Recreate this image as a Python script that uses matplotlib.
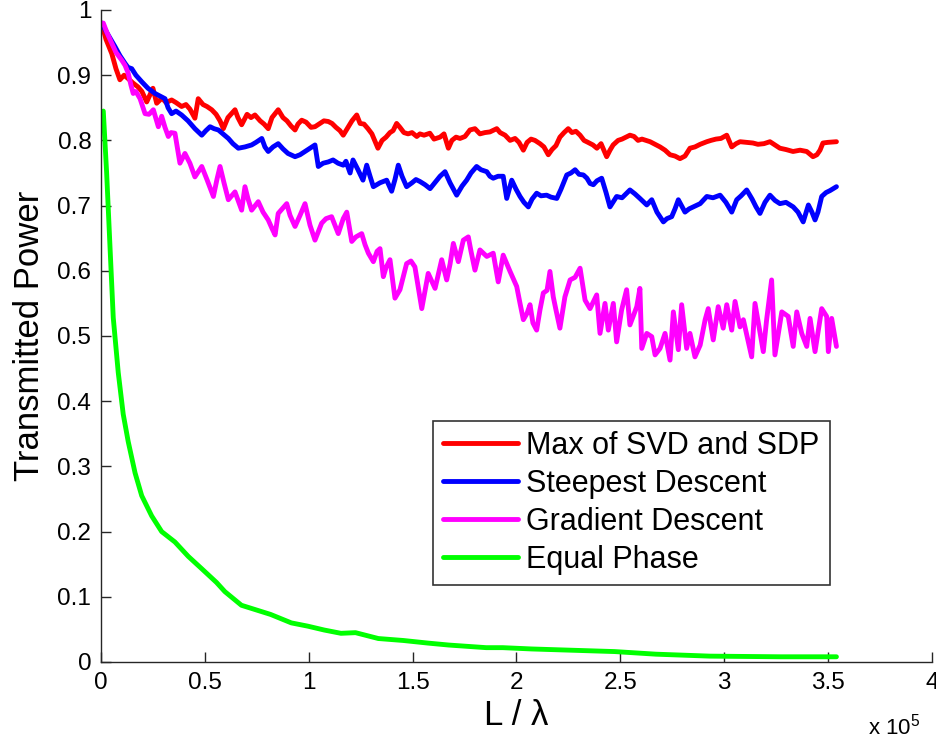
import matplotlib
matplotlib.use("Agg")
import matplotlib.pyplot as plt
import numpy as np

plt.rcParams["font.family"] = ["Liberation Sans", "DejaVu Sans"]
plt.rcParams["mathtext.fontset"] = "custom"
plt.rcParams["mathtext.rm"] = "Liberation Sans"
plt.rcParams["mathtext.it"] = "Liberation Sans"

# Propagation length L/lambda, in units of 1e5
svd_sdp_x = [0.003, 0.024, 0.052, 0.072, 0.091, 0.111, 0.130, 0.154, 0.178, 0.197, 0.220, 0.236,
             0.250, 0.268, 0.294, 0.313, 0.340, 0.361, 0.388, 0.409, 0.428, 0.452, 0.468, 0.491,
             0.510, 0.533, 0.554, 0.573, 0.589, 0.611, 0.645, 0.659, 0.677, 0.703, 0.722, 0.741,
             0.766, 0.785, 0.805, 0.823, 0.853, 0.876, 0.895, 0.915, 0.934, 0.948, 0.966, 0.987,
             1.011, 1.030, 1.054, 1.073, 1.094, 1.112, 1.131, 1.150, 1.166, 1.189, 1.208, 1.231,
             1.247, 1.266, 1.285, 1.304, 1.333, 1.353, 1.372, 1.391, 1.406, 1.423, 1.439, 1.458,
             1.478, 1.497, 1.520, 1.535, 1.555, 1.583, 1.603, 1.632, 1.651, 1.672, 1.689, 1.709,
             1.728, 1.752, 1.776, 1.800, 1.824, 1.848, 1.872, 1.905, 1.921, 1.945, 1.969, 1.993,
             2.012, 2.033, 2.051, 2.070, 2.089, 2.113, 2.132, 2.153, 2.171, 2.190, 2.209, 2.229,
             2.249, 2.267, 2.286, 2.306, 2.325, 2.344, 2.368, 2.387, 2.407, 2.434, 2.450, 2.465,
             2.489, 2.508, 2.527, 2.546, 2.566, 2.585, 2.604, 2.623, 2.643, 2.667, 2.691, 2.715,
             2.739, 2.763, 2.787, 2.811, 2.835, 2.859, 2.884, 2.916, 2.936, 2.960, 2.984, 3.012,
             3.036, 3.057, 3.076, 3.105, 3.138, 3.162, 3.191, 3.220, 3.244, 3.268, 3.297, 3.331,
             3.365, 3.397, 3.427, 3.446, 3.461, 3.475, 3.499, 3.540]
svd_sdp_y = [0.980, 0.955, 0.933, 0.910, 0.893, 0.900, 0.895, 0.888, 0.882, 0.875, 0.859, 0.870,
             0.880, 0.857, 0.865, 0.858, 0.862, 0.858, 0.852, 0.855, 0.848, 0.834, 0.864, 0.855,
             0.852, 0.847, 0.840, 0.830, 0.818, 0.835, 0.847, 0.835, 0.824, 0.840, 0.835, 0.839,
             0.830, 0.825, 0.818, 0.835, 0.847, 0.835, 0.830, 0.822, 0.816, 0.825, 0.831, 0.828,
             0.820, 0.821, 0.826, 0.830, 0.829, 0.826, 0.820, 0.815, 0.808, 0.820, 0.830, 0.839,
             0.826, 0.825, 0.818, 0.810, 0.788, 0.800, 0.805, 0.812, 0.815, 0.826, 0.820, 0.812,
             0.810, 0.812, 0.806, 0.810, 0.808, 0.811, 0.802, 0.805, 0.810, 0.788, 0.800, 0.805,
             0.803, 0.806, 0.816, 0.818, 0.810, 0.812, 0.813, 0.818, 0.812, 0.808, 0.800, 0.803,
             0.797, 0.785, 0.797, 0.802, 0.800, 0.795, 0.790, 0.778, 0.786, 0.792, 0.805, 0.812,
             0.818, 0.812, 0.814, 0.808, 0.800, 0.797, 0.793, 0.788, 0.795, 0.775, 0.785, 0.793,
             0.800, 0.802, 0.805, 0.808, 0.806, 0.800, 0.802, 0.800, 0.798, 0.794, 0.790, 0.785,
             0.778, 0.776, 0.772, 0.776, 0.788, 0.790, 0.794, 0.798, 0.800, 0.802, 0.803, 0.808,
             0.790, 0.795, 0.798, 0.797, 0.796, 0.794, 0.795, 0.798, 0.793, 0.788, 0.786, 0.783,
             0.785, 0.783, 0.775, 0.778, 0.785, 0.796, 0.797, 0.798]

steepest_x = [0.003, 0.034, 0.067, 0.091, 0.116, 0.130, 0.148, 0.168, 0.196, 0.226, 0.260, 0.284,
              0.308, 0.323, 0.340, 0.361, 0.388, 0.419, 0.452, 0.485, 0.505, 0.525, 0.544, 0.565,
              0.587, 0.613, 0.635, 0.661, 0.693, 0.725, 0.746, 0.774, 0.789, 0.805, 0.828, 0.853,
              0.876, 0.900, 0.934, 0.958, 0.982, 1.006, 1.030, 1.046, 1.069, 1.094, 1.117, 1.141,
              1.166, 1.179, 1.199, 1.213, 1.237, 1.261, 1.279, 1.295, 1.311, 1.343, 1.375, 1.399,
              1.415, 1.431, 1.449, 1.471, 1.497, 1.516, 1.535, 1.560, 1.584, 1.607, 1.632, 1.656,
              1.680, 1.712, 1.738, 1.760, 1.781, 1.808, 1.829, 1.857, 1.872, 1.888, 1.911, 1.936,
              1.953, 1.977, 1.998, 2.017, 2.036, 2.057, 2.075, 2.097, 2.118, 2.145, 2.166, 2.194,
              2.214, 2.242, 2.262, 2.282, 2.301, 2.322, 2.339, 2.354, 2.370, 2.387, 2.410, 2.431,
              2.450, 2.482, 2.508, 2.546, 2.570, 2.594, 2.627, 2.651, 2.676, 2.707, 2.724, 2.747,
              2.763, 2.779, 2.811, 2.831, 2.851, 2.884, 2.916, 2.946, 2.980, 3.008, 3.036, 3.060,
              3.081, 3.108, 3.134, 3.153, 3.172, 3.196, 3.220, 3.244, 3.268, 3.297, 3.332, 3.355,
              3.380, 3.405, 3.422, 3.437, 3.451, 3.469, 3.490, 3.509, 3.540]
steepest_y = [0.980, 0.962, 0.944, 0.930, 0.918, 0.912, 0.910, 0.900, 0.890, 0.880, 0.872, 0.868,
              0.864, 0.850, 0.841, 0.845, 0.839, 0.830, 0.818, 0.808, 0.815, 0.821, 0.818, 0.816,
              0.810, 0.803, 0.795, 0.788, 0.790, 0.793, 0.797, 0.803, 0.790, 0.783, 0.790, 0.795,
              0.787, 0.780, 0.775, 0.778, 0.783, 0.788, 0.793, 0.760, 0.765, 0.767, 0.770, 0.765,
              0.762, 0.768, 0.750, 0.770, 0.755, 0.739, 0.762, 0.745, 0.729, 0.735, 0.739, 0.722,
              0.740, 0.762, 0.745, 0.729, 0.735, 0.740, 0.737, 0.732, 0.726, 0.735, 0.745, 0.752,
              0.735, 0.716, 0.730, 0.739, 0.750, 0.760, 0.755, 0.752, 0.745, 0.742, 0.745, 0.745,
              0.711, 0.739, 0.725, 0.714, 0.705, 0.698, 0.710, 0.719, 0.715, 0.716, 0.713, 0.711,
              0.725, 0.747, 0.750, 0.755, 0.748, 0.747, 0.742, 0.734, 0.732, 0.738, 0.742, 0.720,
              0.698, 0.714, 0.712, 0.724, 0.718, 0.711, 0.701, 0.709, 0.690, 0.675, 0.680, 0.683,
              0.695, 0.709, 0.690, 0.695, 0.698, 0.703, 0.714, 0.712, 0.716, 0.705, 0.690, 0.709,
              0.715, 0.724, 0.710, 0.698, 0.688, 0.705, 0.716, 0.708, 0.703, 0.705, 0.698, 0.690,
              0.675, 0.701, 0.690, 0.678, 0.690, 0.714, 0.720, 0.723, 0.729]

gradient_x = [0.011, 0.029, 0.052, 0.072, 0.100, 0.116, 0.131, 0.144, 0.155, 0.168, 0.188, 0.212,
              0.231, 0.252, 0.276, 0.292, 0.308, 0.324, 0.337, 0.356, 0.380, 0.404, 0.428, 0.452,
              0.485, 0.510, 0.541, 0.558, 0.573, 0.592, 0.613, 0.645, 0.677, 0.693, 0.708, 0.725,
              0.757, 0.780, 0.805, 0.823, 0.838, 0.853, 0.894, 0.910, 0.934, 0.958, 0.982, 1.006,
              1.030, 1.062, 1.083, 1.110, 1.126, 1.142, 1.166, 1.183, 1.207, 1.227, 1.255, 1.271,
              1.287, 1.311, 1.329, 1.343, 1.359, 1.372, 1.391, 1.415, 1.439, 1.454, 1.471, 1.492,
              1.511, 1.544, 1.560, 1.575, 1.608, 1.640, 1.664, 1.680, 1.696, 1.720, 1.744, 1.768,
              1.781, 1.800, 1.824, 1.857, 1.888, 1.912, 1.936, 1.969, 2.001, 2.017, 2.033, 2.051,
              2.065, 2.079, 2.097, 2.113, 2.129, 2.147, 2.161, 2.177, 2.190, 2.209, 2.233, 2.258,
              2.282, 2.306, 2.330, 2.354, 2.386, 2.402, 2.426, 2.442, 2.466, 2.482, 2.506, 2.530,
              2.546, 2.579, 2.594, 2.603, 2.627, 2.651, 2.667, 2.691, 2.715, 2.739, 2.755, 2.779,
              2.795, 2.819, 2.835, 2.859, 2.884, 2.908, 2.923, 2.947, 2.971, 2.995, 3.012, 3.036,
              3.052, 3.076, 3.092, 3.132, 3.148, 3.188, 3.204, 3.228, 3.244, 3.277, 3.308, 3.332,
              3.349, 3.373, 3.397, 3.413, 3.437, 3.469, 3.493, 3.501, 3.517, 3.540]
gradient_y = [0.980, 0.965, 0.949, 0.935, 0.923, 0.915, 0.903, 0.885, 0.872, 0.875, 0.864, 0.841,
              0.840, 0.847, 0.821, 0.837, 0.820, 0.806, 0.812, 0.811, 0.765, 0.780, 0.765, 0.744,
              0.760, 0.740, 0.714, 0.740, 0.760, 0.735, 0.709, 0.721, 0.693, 0.729, 0.710, 0.693,
              0.706, 0.690, 0.678, 0.665, 0.655, 0.688, 0.703, 0.685, 0.668, 0.685, 0.703, 0.670,
              0.647, 0.673, 0.680, 0.683, 0.670, 0.657, 0.680, 0.690, 0.645, 0.652, 0.657, 0.640,
              0.627, 0.614, 0.630, 0.634, 0.591, 0.605, 0.617, 0.558, 0.571, 0.590, 0.611, 0.615,
              0.606, 0.542, 0.570, 0.596, 0.573, 0.617, 0.586, 0.610, 0.642, 0.614, 0.647, 0.652,
              0.630, 0.601, 0.632, 0.622, 0.627, 0.583, 0.624, 0.599, 0.576, 0.550, 0.525, 0.535,
              0.548, 0.520, 0.509, 0.540, 0.566, 0.570, 0.599, 0.560, 0.540, 0.512, 0.560, 0.586,
              0.590, 0.604, 0.555, 0.542, 0.563, 0.504, 0.550, 0.509, 0.550, 0.491, 0.540, 0.571,
              0.517, 0.545, 0.573, 0.481, 0.504, 0.499, 0.471, 0.481, 0.504, 0.463, 0.537, 0.479,
              0.548, 0.481, 0.504, 0.468, 0.486, 0.525, 0.542, 0.494, 0.545, 0.512, 0.548, 0.509,
              0.553, 0.514, 0.525, 0.468, 0.550, 0.476, 0.525, 0.586, 0.471, 0.537, 0.530, 0.484,
              0.537, 0.504, 0.484, 0.527, 0.476, 0.542, 0.530, 0.476, 0.527, 0.484]

equal_phase_x = [0.011, 0.027, 0.043, 0.059, 0.083, 0.107, 0.131, 0.164, 0.196, 0.244, 0.292, 0.356,
                 0.420, 0.485, 0.556, 0.596, 0.676, 0.736, 0.816, 0.916, 0.995, 1.075, 1.155, 1.225,
                 1.335, 1.455, 1.574, 1.674, 1.854, 1.934, 2.073, 2.272, 2.472, 2.671, 2.931, 3.270,
                 3.540]
equal_phase_y = [0.845, 0.751, 0.639, 0.528, 0.444, 0.380, 0.338, 0.290, 0.255, 0.224, 0.200, 0.184,
                 0.162, 0.143, 0.122, 0.108, 0.087, 0.081, 0.073, 0.060, 0.055, 0.049, 0.044, 0.045,
                 0.036, 0.033, 0.029, 0.026, 0.022, 0.022, 0.020, 0.018, 0.016, 0.012, 0.009, 0.008,
                 0.008]

series = [
    ("Max of SVD and SDP", svd_sdp_x, svd_sdp_y, "#ff0000"),
    ("Steepest Descent", steepest_x, steepest_y, "#0000ff"),
    ("Gradient Descent", gradient_x, gradient_y, "#ff00ff"),
    ("Equal Phase", equal_phase_x, equal_phase_y, "#00ff00"),
]

x_ticks = [0, 0.5, 1, 1.5, 2, 2.5, 3, 3.5, 4]
y_ticks = [0, 0.1, 0.2, 0.3, 0.4, 0.5, 0.6, 0.7, 0.8, 0.9, 1]

fig = plt.figure(figsize=(9.37, 7.42), dpi=100)
ax = fig.add_axes([101 / 937, 1 - 662 / 742, 831 / 937, 652 / 742])

for label, xs, ys, color in series:
    ax.plot(np.array(xs), np.array(ys), color=color, lw=3.5, label=label,
            solid_joinstyle="round", solid_capstyle="round")

ax.set_xlim(0, 4)
ax.set_ylim(0, 1)
ax.set_xticks(x_ticks)
ax.set_xticklabels([f"{t:g}" for t in x_ticks])
ax.set_yticks(y_ticks)
ax.set_yticklabels([f"{t:g}" for t in y_ticks])

axis_color = "#262626"
for side in ("top", "right"):
    ax.spines[side].set_visible(False)
for side in ("left", "bottom"):
    ax.spines[side].set_color(axis_color)
    ax.spines[side].set_linewidth(1.0)
ax.tick_params(direction="in", length=7, width=1.0, color=axis_color,
               labelsize=17.5, labelcolor="black", pad=7)

ax.set_xlabel("L / λ", fontsize=25, labelpad=4)
ax.set_ylabel("Transmitted Power", fontsize=25, labelpad=8)

fig.text(868 / 937, 1 - 734 / 742, r"x 10$^{5}$", fontsize=16,
         ha="left", va="baseline")

leg = ax.legend(loc="upper left", bbox_to_anchor=(0.3995, 0.3696), borderaxespad=0,
                fontsize=22, frameon=True, fancybox=False, handlelength=2.45,
                handletextpad=0.28, labelspacing=0.26, borderpad=0.33)
leg.get_frame().set_edgecolor("black")
leg.get_frame().set_linewidth(1.2)
for line in leg.get_lines():
    line.set_linewidth(3.5)

fig.savefig("out.png", dpi=100)
